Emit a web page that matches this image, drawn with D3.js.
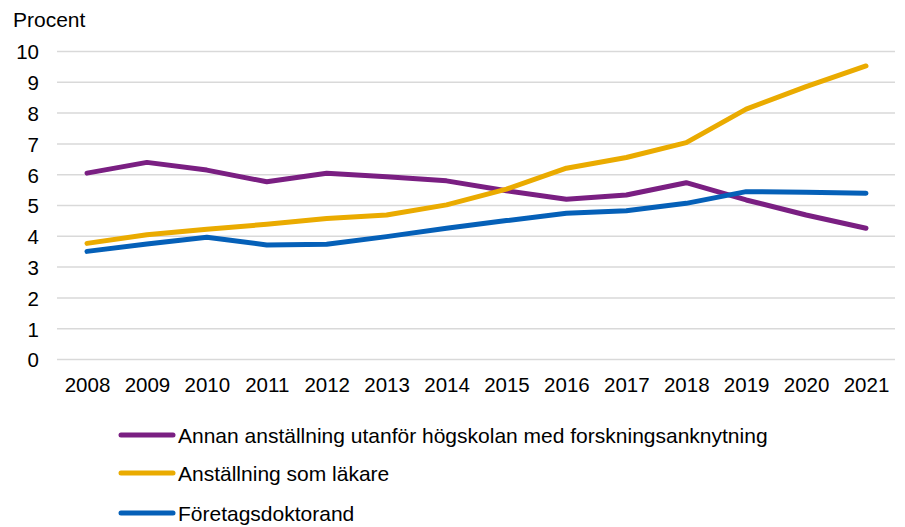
<!DOCTYPE html>
<html>
<head>
<meta charset="UTF-8">
<title></title>
<script src="https://cdn.jsdelivr.net/npm/d3@7"></script>
<style>
  body { margin: 0; background: #fff; }
  text { font-family: "Liberation Sans", Arial, sans-serif; fill: #000; }
</style>
</head>
<body>
<script>
    var years = [2008,2009,2010,2011,2012,2013,2014,2015,2016,2017,2018,2019,2020,2021];
    var annan   = [6.05,6.40,6.15,5.77,6.05,5.93,5.80,5.48,5.20,5.34,5.74,5.18,4.69,4.26];
    var lakare  = [3.77,4.05,4.23,4.39,4.58,4.69,5.02,5.53,6.21,6.56,7.04,8.13,8.86,9.53];
    var foretag = [3.51,3.75,3.97,3.72,3.74,3.99,4.26,4.51,4.75,4.83,5.07,5.45,5.43,5.40];
    var yTicks = [0,1,2,3,4,5,6,7,8,9,10];
    var seriesNames = ["Annan anställning utanför högskolan med forskningsanknytning",
                       "Anställning som läkare",
                       "Företagsdoktorand"];
    var seriesColors = ["#7a1f82", "#eaab00", "#0560b8"];
    var seriesData = [annan, lakare, foretag];

    var svg = d3.select("body").append("svg")
            .attr("width", 905)
            .attr("height", 527);

    var x = d3.scalePoint()
            .domain(years)
            .range([87, 866]);
    var y = d3.scaleLinear()
            .domain([0, 10])
            .range([359.5, 51.5]);

    // gridlines
    svg.append("g")
            .selectAll("line")
            .data(yTicks)
            .enter()
            .append("line")
            .attr("x1", 57)
            .attr("x2", 895)
            .attr("y1", function(d){ return y(d); })
            .attr("y2", function(d){ return y(d); })
            .attr("stroke", "#d9d9d9")
            .attr("stroke-width", 1.5);

    // y axis labels
    var yAxis = d3.axisLeft(y).tickValues(yTicks).tickSize(0).tickPadding(0);
    var gy = svg.append("g").attr("transform", "translate(39,0)").call(yAxis);
    gy.select(".domain").remove();
    gy.selectAll("text").style("font-size", "20.5px").attr("font-family", null).attr("dy", "0.36em");

    // x axis labels
    var xAxis = d3.axisBottom(x).tickSize(0).tickPadding(0);
    var gx = svg.append("g").attr("transform", "translate(0,377)").call(xAxis);
    gx.select(".domain").remove();
    gx.selectAll("text").style("font-size", "20.5px").attr("font-family", null).attr("dy", "0.72em");

    svg.append("text")
            .attr("x", 13)
            .attr("y", 27)
            .style("font-size", "21px")
            .text("Procent");

    var line = d3.line()
            .x(function(d, i){ return x(years[i]); })
            .y(function(d){ return y(d); });

    svg.append("g")
            .selectAll("path")
            .data(seriesData)
            .enter()
            .append("path")
            .attr("d", line)
            .attr("fill", "none")
            .attr("stroke", function(d, i){ return seriesColors[i]; })
            .attr("stroke-width", 5)
            .attr("stroke-linejoin", "round")
            .attr("stroke-linecap", "round");

    // legend
    var legY = [435, 473, 513];
    var leg = svg.append("g")
            .selectAll("g")
            .data(seriesNames)
            .enter()
            .append("g")
            .attr("transform", function(d, i){ return "translate(0," + legY[i] + ")"; });
    leg.append("line")
            .attr("x1", 121).attr("x2", 173)
            .attr("y1", 0).attr("y2", 0)
            .attr("stroke", function(d, i){ return seriesColors[i]; })
            .attr("stroke-width", 5)
            .attr("stroke-linecap", "round");
    leg.append("text")
            .attr("x", 178)
            .attr("dy", "0.36em")
            .style("font-size", "21px")
            .text(function(d){ return d; });
</script>
</body>
</html>
